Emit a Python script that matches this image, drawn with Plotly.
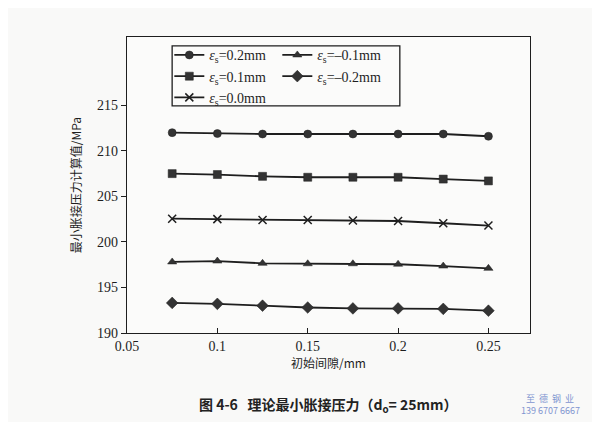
import plotly.graph_objects as go

x_gap = [0.075, 0.1, 0.125, 0.15, 0.175, 0.2, 0.225, 0.25]
s_p02 = [212.0, 211.9, 211.85, 211.85, 211.85, 211.85, 211.85, 211.6]
s_p01 = [207.5, 207.4, 207.2, 207.1, 207.1, 207.1, 206.9, 206.7]
s_00 = [202.55, 202.5, 202.4, 202.4, 202.35, 202.3, 202.05, 201.8]
s_m01 = [197.8, 197.9, 197.65, 197.6, 197.6, 197.55, 197.35, 197.1]
s_m02 = [193.3, 193.2, 193.0, 192.8, 192.7, 192.7, 192.65, 192.45]

names = ["<i>ε</i><sub>s</sub>=0.2mm", "<i>ε</i><sub>s</sub>=0.1mm", "<i>ε</i><sub>s</sub>=0.0mm",
         "<i>ε</i><sub>s</sub>=–0.1mm", "<i>ε</i><sub>s</sub>=–0.2mm"]
series = [s_p02, s_p01, s_00, s_m01, s_m02]
symbols = ["circle", "square", "x-thin", "triangle-up", "diamond"]
legends = ["legend", "legend", "legend", "legend2", "legend2"]
sizes = [8, 8, 8, 8, 9]

ink = "#1e1e1e"
serif = "Liberation Serif"
fig = go.Figure()
for n, s, sym, lg, sz in zip(names, series, symbols, legends, sizes):
    fig.add_trace(go.Scatter(
        x=x_gap, y=s, name=n, mode="lines+markers", legend=lg,
        line=dict(color=ink, width=1.8),
        marker=dict(symbol=sym, size=sz, color="#333333",
                    line=dict(color=ink, width=1.5 if sym == "x-thin" else 0.5)),
    ))

leg_common = dict(orientation="v", yanchor="top", xanchor="left", borderwidth=0,
                  bgcolor="rgba(0,0,0,0)", tracegroupgap=0, itemwidth=30,
                  font=dict(family=serif, size=14, color=ink))
fig.update_layout(
    width=592, height=414,
    paper_bgcolor="#f9f9f8", plot_bgcolor="#fbfbfa",
    margin=dict(l=119, r=70, t=29, b=89),
    font=dict(family=serif, size=14, color=ink),
    showlegend=True,
    legend=dict(x=0.105, y=0.992, **leg_common),
    legend2=dict(x=0.373, y=0.992, **leg_common),
    shapes=[dict(type="rect", xref="paper", yref="paper", x0=0.112, x1=0.677, y0=0.767, y1=0.970,
                 line=dict(color=ink, width=1.3), fillcolor="rgba(0,0,0,0)", layer="above")],
    xaxis=dict(
        range=[0.05, 0.273], tickvals=[0.05, 0.1, 0.15, 0.2, 0.25],
        ticktext=["0.05", "0.1", "0.15", "0.2", "0.25"],
        ticks="inside", ticklen=5, tickcolor=ink,
        showline=True, linecolor=ink, linewidth=1.3, mirror=True,
        showgrid=False, zeroline=False, automargin=False,
        title=dict(text="初始间隙/mm", font=dict(family="Noto Sans CJK SC", size=12), standoff=0),
        tickfont=dict(family=serif, size=14),
    ),
    yaxis=dict(
        range=[190, 222.5], tickvals=[190, 195, 200, 205, 210, 215],
        ticks="outside", ticklen=5, tickcolor=ink,
        showline=True, linecolor=ink, linewidth=1.3, mirror=True,
        showgrid=False, zeroline=False, automargin=False,
        title=dict(text="最小胀接压力计算值/MPa", font=dict(family="Noto Sans CJK SC", size=12), standoff=12),
        tickfont=dict(family=serif, size=14),
    ),
    annotations=[
        dict(text="<b>图 4-6   理论最小胀接压力（d<sub>o</sub>= 25mm）</b>",
             xref="paper", yref="paper", x=0.5, y=-0.243, xanchor="center", yanchor="middle",
             showarrow=False, font=dict(family="Noto Sans CJK SC", size=14, color="#222222")),
        dict(text="至  德  钢  业",
             xref="paper", yref="paper", x=1.05, y=-0.22, xanchor="center", yanchor="middle",
             showarrow=False, font=dict(family="Noto Sans CJK SC", size=9, color="#7f95d0")),
        dict(text="139 6707 6667",
             xref="paper", yref="paper", x=1.05, y=-0.262, xanchor="center", yanchor="middle",
             showarrow=False, font=dict(family="Noto Sans CJK SC", size=9, color="#7f95d0")),
    ],
)

fig.write_html("out.html")
